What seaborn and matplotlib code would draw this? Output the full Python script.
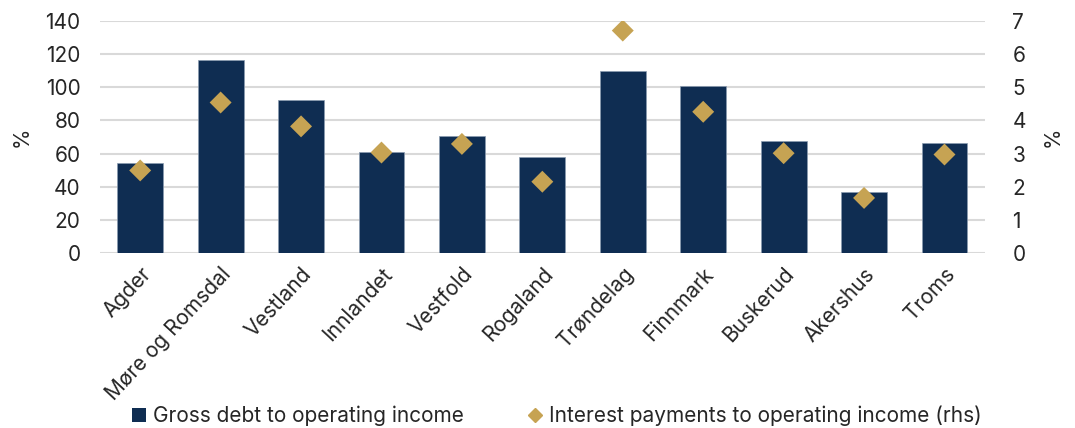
import matplotlib
matplotlib.use("Agg")
import matplotlib.pyplot as plt
import seaborn as sns
import pandas as pd
from matplotlib.lines import Line2D
from matplotlib.patches import Patch

# data
regions = ["Agder", "Møre og Romsdal", "Vestland", "Innlandet", "Vestfold", "Rogaland",
           "Trøndelag", "Finnmark", "Buskerud", "Akershus", "Troms"]
gross_debt = [54.5, 116.4, 92.5, 61.0, 70.3, 58.2, 110.1, 100.8, 67.7, 36.8, 66.5]
interest = [2.49, 4.54, 3.82, 3.03, 3.29, 2.15, 6.71, 4.26, 3.01, 1.66, 2.97]

navy = "#0f2d52"
gold = "#c6a353"
grid_col = "#d9d9d9"
fs = 15

sns.set_theme(style="white")
plt.rcParams["font.family"] = ["Inter", "DejaVu Sans"]

df = pd.DataFrame({"region": regions, "debt": gross_debt, "interest": interest})

fig = plt.figure(figsize=(10.75, 4.28), dpi=100)
ax = fig.add_axes([0.093, 0.409, 0.823, 0.542])

sns.barplot(data=df, x="region", y="debt", color=navy, width=0.57, ax=ax,
            saturation=1, edgecolor="#8a9bb0", linewidth=0.5, zorder=2)
ax.set_ylim(0, 140)
ax.set_yticks(range(0, 141, 20))
ax.yaxis.grid(True, color=grid_col, linewidth=1.5, zorder=0)
ax.set_axisbelow(True)
ax.set_xlabel("")
ax.set_ylabel("%", fontsize=fs, labelpad=10)
ax.tick_params(axis="y", labelsize=fs, length=0, pad=14)
ax.tick_params(axis="x", labelsize=fs, length=0, pad=8)
for lab in ax.get_xticklabels():
    lab.set_rotation(47)
    lab.set_ha("right")
    lab.set_rotation_mode("anchor")
for s in ax.spines.values():
    s.set_visible(False)

ax2 = ax.twinx()
sns.scatterplot(data=df, x="region", y="interest", marker="D", s=125, color=gold,
                edgecolor="none", ax=ax2, zorder=3, legend=False)
ax2.set_ylim(0, 7)
ax2.set_yticks(range(0, 8))
ax2.set_ylabel("%", fontsize=fs, labelpad=12)
ax2.tick_params(axis="y", labelsize=fs, length=0, pad=20)
for s in ax2.spines.values():
    s.set_visible(False)
ax2.grid(False)
ax.set_xlim(-0.5, len(regions) - 0.5)

handles = [Patch(facecolor=navy, edgecolor="none"),
           Line2D([], [], marker="D", color=gold, linestyle="none", markersize=7)]
fig.legend(handles, ["Gross debt to operating income",
                     "Interest payments to operating income (rhs)"],
           loc="lower center", bbox_to_anchor=(0.518, -0.04), ncol=2, frameon=False,
           fontsize=fs, handlelength=0.7, handletextpad=0.3, columnspacing=3.1)

fig.savefig("out.png", dpi=100)
